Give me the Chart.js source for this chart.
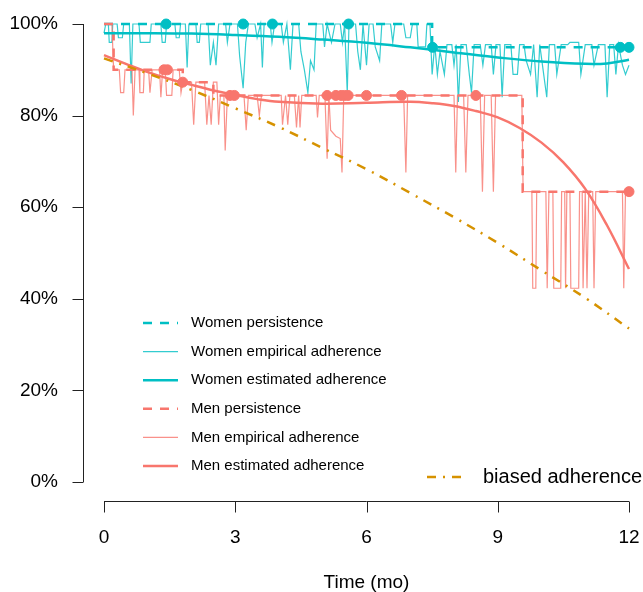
<!DOCTYPE html>
<html>
<head>
<meta charset="utf-8">
<script src="https://cdn.jsdelivr.net/npm/chart.js@4"></script>
<style>
  body { margin: 0; background: #fff; }
  canvas { display: block; }
</style>
</head>
<body>
<canvas id="chart1" width="643" height="592"></canvas>
<script>
// x axis ticks (months) and y axis ticks (%)
const xTicks = [0, 3, 6, 9, 12];
const yTicks = [0, 20, 40, 60, 80, 100];

// persistence (step functions)
const womenPersT = [0, 7.5, 12];
const womenPersV = [100, 94.9, 94.9];
const menPersT = [0, 0.22, 1.8, 2.5, 9.57, 12];
const menPersV = [100, 90, 87.3, 84.4, 63.4, 63.4];

// censoring marks
const womenDotT = [1.42, 3.18, 3.85, 5.59, 7.51, 11.8, 12];
const womenDotV = [100, 100, 100, 100, 94.9, 94.9, 94.9];
const menDotT = [1.37, 1.45, 1.8, 2.88, 2.98, 5.1, 5.3, 5.42, 5.5, 5.58, 6.0, 6.8, 8.5, 12];
const menDotV = [90, 90, 87.3, 84.4, 84.4, 84.4, 84.4, 84.4, 84.4, 84.4, 84.4, 84.4, 84.4, 63.4];

// empirical adherence, women
const womenEmpT = [0,0.04,0.10,0.12,0.18,0.20,0.30,0.33,0.42,0.45,0.58,0.62,0.66,0.80,0.83,1.05,1.08,1.30,1.33,1.40,1.43,1.62,1.65,1.72,1.75,1.86,1.90,1.94,2.10,2.13,2.18,2.21,2.38,2.43,2.50,2.56,2.62,2.78,2.82,2.88,3.05,3.10,3.18,3.24,3.30,3.45,3.50,3.58,3.62,3.66,3.80,3.84,3.90,4.05,4.10,4.18,4.26,4.32,4.45,4.50,4.58,4.66,4.72,4.80,4.85,5.00,5.04,5.10,5.20,5.28,5.40,5.45,5.50,5.56,5.60,5.75,5.80,5.86,5.92,6.00,6.06,6.15,6.20,6.30,6.35,6.55,6.60,6.65,6.85,6.90,7.00,7.05,7.15,7.18,7.35,7.38,7.45,7.50,7.56,7.62,7.68,7.78,7.84,7.95,8.00,8.05,8.10,8.16,8.28,8.35,8.40,8.46,8.60,8.66,8.72,8.85,8.90,8.96,9.05,9.10,9.16,9.30,9.35,9.45,9.50,9.60,9.65,9.75,9.82,9.90,9.96,10.05,10.12,10.18,10.30,10.35,10.45,10.60,10.65,10.85,10.90,11.00,11.15,11.20,11.30,11.45,11.50,11.56,11.65,11.70,11.76,11.85,11.92,12.00];
const womenEmpV = [98,100,100,96,96,100,100,97,97,100,100,87,100,100,96,96,100,100,96,96,100,100,97,97,100,100,90.5,100,100,96,96,100,100,91,96,91,100,100,96,100,100,93,86,96,100,100,97,100,90.5,100,100,96,100,100,96,100,90,100,100,94,90,85,92,90,100,100,95,100,96,100,100,96,100,85,100,100,94,90,100,91,100,100,95,92,100,100,96,100,100,97,97,100,100,95,95,100,100,89,95.5,89,94,89,95.5,95.5,91,95.5,83,95.5,95.5,89,85,95.5,95.5,91,95.5,95.5,89,95.5,95.5,84,95.5,95.5,89,89,95.5,95.5,92,89,95.5,84,95.5,89,84,95.5,95.5,89,95.5,95.5,96,96,89,95.5,95.5,91,95.5,95.5,84,95.5,95.5,89,95.5,91,89,91];

// empirical adherence, men
const menEmpT = [0,0.18,0.22,0.35,0.38,0.45,0.48,0.64,0.67,0.71,0.80,0.82,0.90,0.92,1.02,1.05,1.10,1.27,1.30,1.34,1.40,1.43,1.55,1.58,1.72,1.76,1.80,2.00,2.05,2.10,2.30,2.35,2.40,2.45,2.50,2.58,2.62,2.66,2.74,2.77,2.82,3.20,3.25,3.30,3.50,3.55,3.60,4.05,4.08,4.15,4.20,4.25,4.35,4.40,4.45,4.48,4.52,4.85,4.88,4.92,5.05,5.10,5.14,5.18,5.30,5.40,5.44,5.48,6.85,6.90,6.94,8.00,8.04,8.08,8.22,8.27,8.32,8.60,8.65,8.70,8.85,8.90,8.95,9.55,9.58,9.78,9.80,9.87,9.89,10.10,10.13,10.17,10.26,10.28,10.44,10.46,10.53,10.55,10.58,10.65,10.67,10.85,10.87,10.93,10.95,11.00,11.04,11.08,11.17,11.20,11.24,11.85,11.88,11.92,12.00];
const menEmpV = [100,100,90,90,85,85,90,90,80,90,90,85,85,90,90,85,90,90,84,90,90,84.4,84.4,90,90,85,87.3,87.3,78,87.3,87.3,78,84.4,78,87.3,87.3,78,84.4,84.4,72.4,84.4,84.4,76.8,84.4,84.4,80,84.4,84.4,78,84.4,78,84.4,84.4,77.4,84.4,77.4,84.4,84.4,79.6,84.4,84.4,70.6,84.4,76.8,75.5,75,67.6,84.4,84.4,67.6,84.4,84.4,67.6,84.4,84.4,67.6,84.4,84.4,63.4,84.4,84.4,63.4,84.4,84.4,63.4,63.4,42.3,42.3,63.4,63.4,42.3,63.4,63.4,42.3,42.3,63.4,63.4,42.3,63.4,63.4,42.3,42.3,63.4,63.4,42.3,63.4,42.3,63.4,63.4,42.3,63.4,63.4,42.3,63.4,63.4];

// estimated adherence (smooth curves)
const womenEstT = [0, 1, 2, 3, 4, 5, 6, 7, 8, 9, 10, 11, 11.5, 12];
const womenEstV = [98, 98, 97.9, 97.6, 97.2, 96.6, 95.9, 94.9, 93.8, 92.7, 91.8, 91.3, 91.4, 92.2];
const menEstT = [0, 0.5, 1, 1.5, 2, 2.5, 3, 3.5, 4, 5, 6, 7, 7.5, 8, 8.5, 9, 9.5, 10, 10.5, 11, 11.5, 12];
const menEstV = [93.2, 91.3, 89.5, 88, 86.7, 85.5, 84.5, 83.6, 83, 82.6, 82.8, 83, 82.7, 82.1, 81, 79.6, 77.3, 74.1, 69.8, 64, 56, 46.5];

// biased adherence
const biasedT = [0, 1, 2, 3, 4, 5, 6, 7, 8, 9, 10, 11, 12];
const biasedV = [92.5, 89.2, 85.6, 81.6, 77.5, 72.9, 68.3, 63.1, 57.8, 52.2, 46.2, 40.2, 33.5];

const teal = "rgb(0, 191, 196)";
const tealLight = "rgba(0, 191, 196, 0.8)";
const salmon = "rgb(248, 118, 109)";
const salmonLight = "rgba(248, 118, 109, 0.8)";
const gold = "rgb(214, 146, 0)";

const pts = (t, v) => t.map((x, i) => ({x: x, y: v[i]}));

const legendMain = [
    {label: "Women persistence", color: teal, width: 2.5, dash: [9, 8]},
    {label: "Women empirical adherence", color: tealLight, width: 1.2, dash: []},
    {label: "Women estimated adherence", color: teal, width: 2.5, dash: []},
    {label: "Men persistence", color: salmon, width: 2.5, dash: [9, 8]},
    {label: "Men empirical adherence", color: salmonLight, width: 1.2, dash: []},
    {label: "Men estimated adherence", color: salmon, width: 2.5, dash: []}
];

// R style axes drawn away from the plot area + the two legends
const rStyle = {
    id: "rStyle",
    afterDraw(chart) {
        const ctx = chart.ctx;
        const xs = chart.scales.x, ys = chart.scales.y;
        ctx.save();
        ctx.strokeStyle = "#222";
        ctx.lineWidth = 1;
        ctx.setLineDash([]);
        // y axis
        const ax = 83.5;
        ctx.beginPath();
        ctx.moveTo(ax, ys.getPixelForValue(100));
        ctx.lineTo(ax, ys.getPixelForValue(0));
        yTicks.forEach(v => {
            const p = Math.round(ys.getPixelForValue(v)) + 0.5;
            ctx.moveTo(ax, p);
            ctx.lineTo(ax - 11, p);
        });
        ctx.stroke();
        // x axis
        const ay = 501.5;
        ctx.beginPath();
        ctx.moveTo(xs.getPixelForValue(0), ay);
        ctx.lineTo(xs.getPixelForValue(12), ay);
        xTicks.forEach(v => {
            const p = Math.round(xs.getPixelForValue(v)) + 0.5;
            ctx.moveTo(p, ay);
            ctx.lineTo(p, ay + 11);
        });
        ctx.stroke();

        // legend
        ctx.textBaseline = "middle";
        ctx.textAlign = "left";
        ctx.fillStyle = "#000";
        ctx.font = "15px 'Liberation Sans', Arial, sans-serif";
        legendMain.forEach((e, i) => {
            const y = 323 + i * 28.6;
            ctx.strokeStyle = e.color;
            ctx.lineWidth = e.width;
            ctx.setLineDash(e.dash);
            ctx.beginPath();
            ctx.moveTo(143, y);
            ctx.lineTo(178, y);
            ctx.stroke();
            ctx.fillText(e.label, 191, y);
        });
        ctx.strokeStyle = gold;
        ctx.lineWidth = 2.5;
        ctx.setLineDash([9, 7, 2, 7]);
        ctx.beginPath();
        ctx.moveTo(427, 477);
        ctx.lineTo(468, 477);
        ctx.stroke();
        ctx.font = "20px 'Liberation Sans', Arial, sans-serif";
        ctx.fillText("biased adherence", 483, 477);
        ctx.restore();
    }
};

const baseLine = {showLine: true, pointRadius: 0, fill: false, clip: false};

new Chart(document.getElementById("chart1"), {
    type: "scatter",
    data: {
        datasets: [
            {...baseLine, label: "Women empirical adherence", data: pts(womenEmpT, womenEmpV),
                borderColor: tealLight, borderWidth: 1.2, order: 9},
            {...baseLine, label: "Men empirical adherence", data: pts(menEmpT, menEmpV),
                borderColor: salmonLight, borderWidth: 1.2, order: 8},
            {...baseLine, label: "Women persistence", data: pts(womenPersT, womenPersV), stepped: "before",
                borderColor: teal, borderWidth: 2.5, borderDash: [9, 8], order: 7},
            {...baseLine, label: "Men persistence", data: pts(menPersT, menPersV), stepped: "before",
                borderColor: salmon, borderWidth: 2.5, borderDash: [9, 8], order: 6},
            {...baseLine, label: "Women estimated adherence", data: pts(womenEstT, womenEstV),
                tension: 0.4, borderColor: teal, borderWidth: 2.5, order: 5},
            {...baseLine, label: "Men estimated adherence", data: pts(menEstT, menEstV),
                tension: 0.4, borderColor: salmon, borderWidth: 2.5, order: 4},
            {...baseLine, label: "biased adherence", data: pts(biasedT, biasedV),
                tension: 0.4, borderColor: gold, borderWidth: 2.5,
                borderDash: [9, 7, 2, 7], order: 3},
            {label: "Women censored", data: pts(womenDotT, womenDotV), showLine: false, clip: false,
                pointRadius: 5, pointBackgroundColor: teal, pointBorderColor: teal, order: 2},
            {label: "Men censored", data: pts(menDotT, menDotV), showLine: false, clip: false,
                pointRadius: 5, pointBackgroundColor: salmon, pointBorderColor: salmon, order: 1}
        ]
    },
    options: {
        responsive: false,
        animation: false,
        devicePixelRatio: 1,
        layout: {padding: {top: 24, right: 14, left: 0, bottom: 0}},
        plugins: {legend: {display: false}, tooltip: {enabled: false}},
        scales: {
            x: {
                type: "linear", min: 0, max: 12,
                afterBuildTicks: s => { s.ticks = xTicks.map(v => ({value: v})); },
                afterFit: s => { s.height = 110; s.paddingLeft = 0; s.paddingRight = 0; },
                grid: {display: false, drawTicks: false},
                border: {display: false},
                ticks: {padding: 44, color: "#000", font: {size: 19, family: "'Liberation Sans', Arial"}},
                title: {display: true, text: "Time (mo)", color: "#000", padding: {top: 0, bottom: -2},
                    font: {size: 19, family: "'Liberation Sans', Arial"}}
            },
            y: {
                min: 0, max: 100,
                afterBuildTicks: s => { s.ticks = yTicks.map(v => ({value: v})); },
                afterFit: s => { s.width = 104; s.paddingTop = 0; s.paddingBottom = 0; },
                grid: {display: false, drawTicks: false},
                border: {display: false},
                ticks: {padding: 46, color: "#000", callback: v => v + "%",
                    font: {size: 19, family: "'Liberation Sans', Arial"}}
            }
        }
    },
    plugins: [rStyle]
});
</script>
</body>
</html>
